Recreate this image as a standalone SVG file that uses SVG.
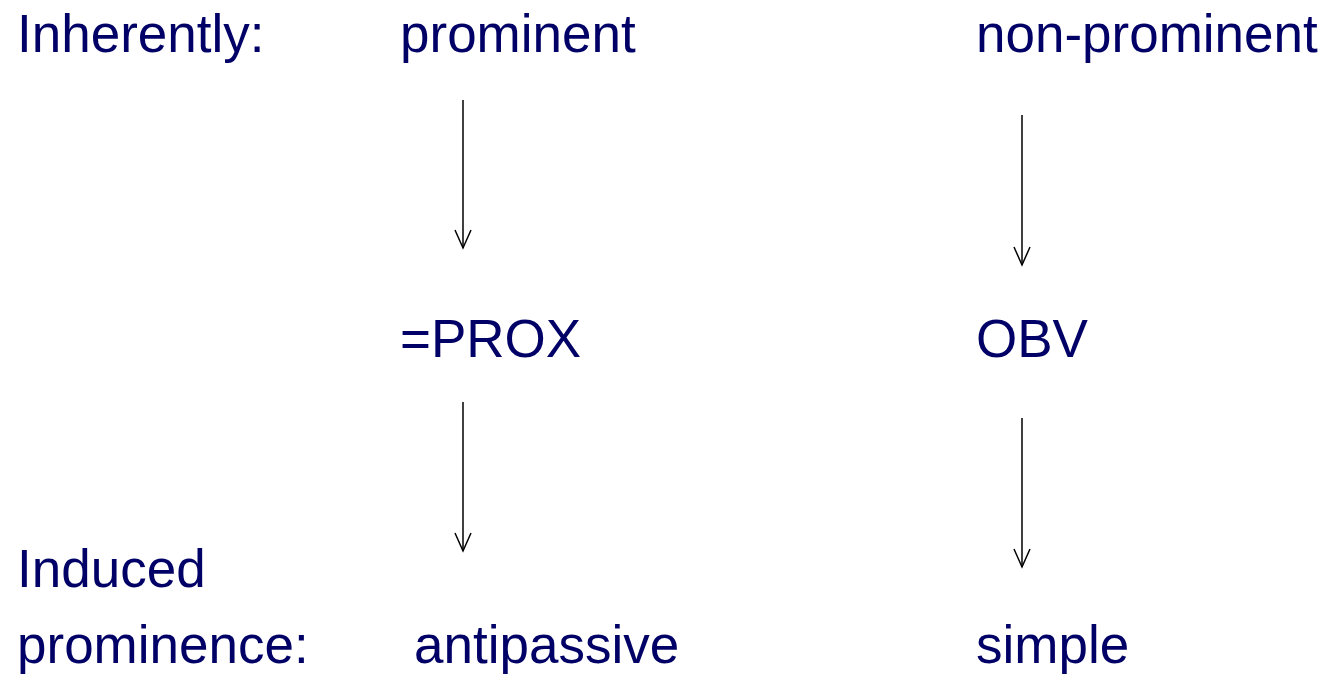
<svg xmlns="http://www.w3.org/2000/svg" width="1327" height="675" viewBox="0 0 1327 675">
<defs>
<style>
text{font-family:"Liberation Sans",Arial,sans-serif;font-size:53px;fill:#000066}
.c{stroke:#000;stroke-width:1.5;fill:none}
</style>
<marker id="ah" markerWidth="24" markerHeight="20" refX="20" refY="10" orient="auto" markerUnits="userSpaceOnUse" viewBox="0 0 24 20">
<path d="M2,2 L20,10 L2,18" fill="none" stroke="#000" stroke-width="1.5"/>
</marker>
</defs>
<rect width="1327" height="675" fill="#fff"/>
<g id="label-inherently"><text x="17" y="52">Inherently:</text></g>
<g id="prominent"><text x="400" y="52">prominent</text></g>
<g id="non-prominent"><text x="976" y="52">non-prominent</text></g>
<g id="prox"><text x="400" y="357">=PROX</text></g>
<g id="obv"><text x="976" y="357">OBV</text></g>
<g id="label-induced"><text x="17" y="587">Induced</text><text x="17" y="663">prominence:</text></g>
<g id="antipassive"><text x="414" y="663">antipassive</text></g>
<g id="simple"><text x="976" y="663">simple</text></g>
<g id="connectors">
<line class="c" x1="463" y1="100" x2="463" y2="248" marker-end="url(#ah)"/>
<line class="c" x1="463" y1="402" x2="463" y2="551" marker-end="url(#ah)"/>
<line class="c" x1="1022" y1="115" x2="1022" y2="265" marker-end="url(#ah)"/>
<line class="c" x1="1022" y1="418" x2="1022" y2="567" marker-end="url(#ah)"/>
</g>
</svg>
